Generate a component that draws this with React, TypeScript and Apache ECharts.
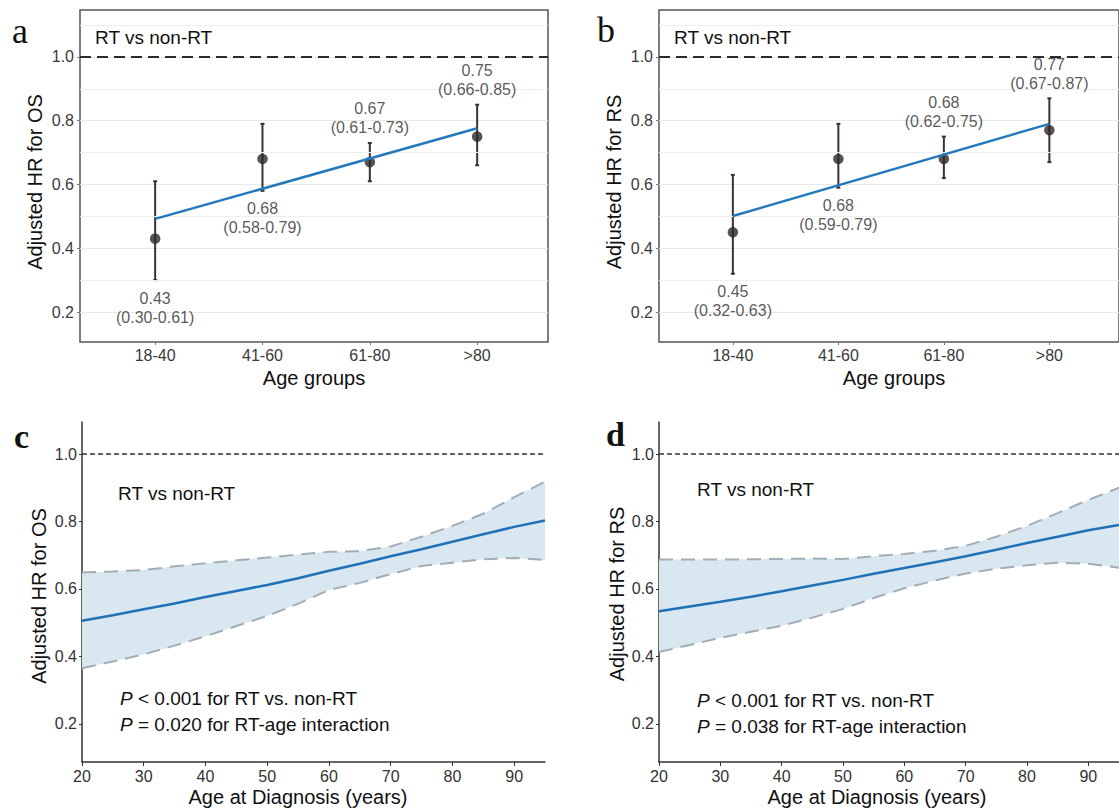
import React, { useEffect, useRef } from 'react';
import * as echarts from 'echarts';

// ---------- data ----------
const ageGroups = ['18-40', '41-60', '61-80', '>80'];
const groupPos = [1, 2, 3, 4];

// panel a: adjusted HR for OS by age group
const hrOS = [0.43, 0.68, 0.67, 0.75];
const loOS = [0.30, 0.58, 0.61, 0.66];
const hiOS = [0.61, 0.79, 0.73, 0.85];
const trendOS = [0.492, 0.776];
const sideOS = ['bottom', 'bottom', 'top', 'top'];

// panel b: adjusted HR for RS by age group
const hrRS = [0.45, 0.68, 0.68, 0.77];
const loRS = [0.32, 0.59, 0.62, 0.67];
const hiRS = [0.63, 0.79, 0.75, 0.87];
const trendRS = [0.501, 0.79];
const sideRS = ['bottom', 'bottom', 'top', 'top'];

// panels c/d: continuous age
const ages = [20, 25, 30, 35, 40, 45, 50, 55, 60, 65, 70, 75, 80, 85, 90, 95];
const fitOS = [0.506, 0.522, 0.540, 0.557, 0.576, 0.594, 0.612, 0.632, 0.654, 0.675, 0.697, 0.718, 0.740, 0.762, 0.784, 0.803];
const upOS = [0.649, 0.652, 0.656, 0.667, 0.676, 0.685, 0.693, 0.702, 0.710, 0.712, 0.726, 0.755, 0.787, 0.823, 0.872, 0.918];
const lowOS = [0.365, 0.385, 0.406, 0.432, 0.460, 0.490, 0.520, 0.556, 0.597, 0.618, 0.644, 0.668, 0.678, 0.688, 0.692, 0.686];

const fitRS = [0.534, 0.548, 0.562, 0.577, 0.593, 0.610, 0.627, 0.645, 0.662, 0.679, 0.697, 0.716, 0.736, 0.755, 0.774, 0.790];
const upRS = [0.687, 0.687, 0.687, 0.688, 0.689, 0.690, 0.689, 0.697, 0.704, 0.713, 0.728, 0.755, 0.787, 0.825, 0.864, 0.900];
const lowRS = [0.413, 0.434, 0.455, 0.473, 0.491, 0.515, 0.541, 0.573, 0.602, 0.625, 0.646, 0.660, 0.670, 0.678, 0.675, 0.663];

const hrTicks = [0.2, 0.4, 0.6, 0.8, 1.0];
const minorLevels = [0.3, 0.5, 0.7, 0.9, 1.1];
const ageTicks = [20, 30, 40, 50, 60, 70, 80, 90];
const refHR = 1.0;

// ---------- styling ----------
const FONT = '"Liberation Sans", Arial, Helvetica, sans-serif';
const SERIF = '"Liberation Serif", "Times New Roman", serif';
const BLUE = '#2479bd';
const DOT = '#2f2727';

function groupXAxis(gridIndex: number) {
  return {
    type: 'value', gridIndex, min: 0.3, max: 4.66,
    axisLine: { show: false, onZero: false },
    axisTick: { show: true, customValues: groupPos, length: 3, lineStyle: { color: '#777', width: 1 } },
    axisLabel: {
      customValues: groupPos,
      formatter: (v: number) => ageGroups[groupPos.indexOf(Math.round(v))] ?? '',
      color: '#3a3a3a', fontSize: 16, fontFamily: FONT, margin: 5,
    },
    splitLine: { show: false },
  };
}
function boxYAxis(gridIndex: number) {
  return {
    type: 'value', gridIndex, min: 0.106, max: 1.147,
    axisLine: { show: false, onZero: false },
    axisTick: { show: true, customValues: hrTicks, length: 3, lineStyle: { color: '#777', width: 1 } },
    axisLabel: {
      customValues: hrTicks, formatter: (v: number) => v.toFixed(1),
      color: '#3a3a3a', fontSize: 16, fontFamily: FONT, margin: 6,
    },
    splitLine: { show: true, lineStyle: { color: '#e8e8e8', width: 1 } },
  };
}
function ageXAxis(gridIndex: number) {
  return {
    type: 'value', gridIndex, min: 20, max: 95,
    axisLine: { show: true, onZero: false, lineStyle: { color: '#333', width: 1.5 } },
    axisTick: { show: true, customValues: ageTicks, length: 4, lineStyle: { color: '#333', width: 1 } },
    axisLabel: { customValues: ageTicks, color: '#333', fontSize: 16, fontFamily: FONT, margin: 6 },
    splitLine: { show: false },
  };
}
function classicYAxis(gridIndex: number) {
  return {
    type: 'value', gridIndex, min: 0.087, max: 1.095,
    axisLine: { show: true, onZero: false, lineStyle: { color: '#333', width: 1.5 } },
    axisTick: { show: true, customValues: hrTicks, length: 3, lineStyle: { color: '#333', width: 1 } },
    axisLabel: {
      customValues: hrTicks, formatter: (v: number) => v.toFixed(1),
      color: '#333', fontSize: 16, fontFamily: FONT, margin: 5,
    },
    splitLine: { show: false },
  };
}

function forestSeries(idx: number, hr: number[], lo: number[], hi: number[], trend: number[], sides: string[]) {
  const ax = { xAxisIndex: idx, yAxisIndex: idx };
  return [
    {
      type: 'line', ...ax, data: [], silent: true, z: 1,
      markLine: {
        silent: true, symbol: ['none', 'none'], label: { show: false },
        lineStyle: { color: '#eeeeee', width: 1, type: 'solid' },
        data: minorLevels.map((v) => ({ yAxis: v })),
      },
    },
    {
      type: 'custom', ...ax, z: 3,
      data: groupPos.map((x, i) => [x, lo[i], hi[i]]),
      encode: { x: 0, y: [1, 2] },
      renderItem: (_p: any, api: any) => {
        const x = api.value(0);
        const a = api.coord([x, api.value(1)]);
        const b = api.coord([x, api.value(2)]);
        const st = { stroke: '#3a3131', lineWidth: 2 };
        const cap = 2;
        return {
          type: 'group',
          children: [
            { type: 'line', shape: { x1: a[0], y1: a[1], x2: b[0], y2: b[1] }, style: st },
            { type: 'line', shape: { x1: a[0] - cap, y1: a[1], x2: a[0] + cap, y2: a[1] }, style: st },
            { type: 'line', shape: { x1: b[0] - cap, y1: b[1], x2: b[0] + cap, y2: b[1] }, style: st },
          ],
        };
      },
    },
    {
      type: 'scatter', ...ax, z: 4, symbolSize: 10.5,
      itemStyle: { color: DOT },
      data: groupPos.map((x, i) => [x, hr[i]]),
    },
    {
      type: 'line', ...ax, z: 5, symbol: 'none',
      lineStyle: { color: BLUE, width: 2.5 },
      data: [[groupPos[0], trend[0]], [groupPos[groupPos.length - 1], trend[1]]],
      markLine: {
        silent: true, symbol: ['none', 'none'], label: { show: false },
        lineStyle: { color: '#2a2a2a', width: 1.8, type: [11, 6] },
        data: [{ yAxis: refHR }],
      },
    },
    {
      type: 'scatter', ...ax, z: 6, symbolSize: 1,
      itemStyle: { color: 'rgba(0,0,0,0)' },
      data: groupPos.map((x, i) => ({
        value: [x, sides[i] === 'top' ? hi[i] : lo[i]],
        label: { position: sides[i], distance: sides[i] === 'top' ? 5 : 8 },
      })),
      label: {
        show: true,
        formatter: (p: any) => {
          const i = p.dataIndex;
          return `${hr[i].toFixed(2)}\n(${lo[i].toFixed(2)}-${hi[i].toFixed(2)})`;
        },
        color: '#2e2e2e', fontSize: 16, lineHeight: 19, fontFamily: FONT, align: 'center',
      },
    },
  ];
}

function curveSeries(idx: number, fit: number[], up: number[], low: number[]) {
  const ax = { xAxisIndex: idx, yAxisIndex: idx };
  const dash = { color: '#a3adb6', width: 2, type: [14, 8] };
  return [
    {
      type: 'custom', ...ax, z: 1, clip: true,
      data: ages.map((a, i) => [a, low[i], up[i]]),
      encode: { x: 0, y: [1, 2] },
      renderItem: (p: any, api: any) => {
        if (p.dataIndex !== 0) return null;
        const pts: number[][] = [];
        ages.forEach((a, i) => pts.push(api.coord([a, low[i]])));
        for (let i = ages.length - 1; i >= 0; i--) pts.push(api.coord([ages[i], up[i]]));
        return { type: 'polygon', shape: { points: pts }, style: { fill: '#d9e7f0' } };
      },
    },
    { type: 'line', ...ax, z: 2, symbol: 'none', lineStyle: dash, data: ages.map((a, i) => [a, up[i]]) },
    { type: 'line', ...ax, z: 2, symbol: 'none', lineStyle: dash, data: ages.map((a, i) => [a, low[i]]) },
    {
      type: 'line', ...ax, z: 3, symbol: 'none',
      lineStyle: { color: '#1f72b8', width: 2.5 },
      data: ages.map((a, i) => [a, fit[i]]),
      markLine: {
        silent: true, symbol: ['none', 'none'], label: { show: false },
        lineStyle: { color: '#333', width: 1.5, type: [5, 3] },
        data: [{ yAxis: refHR }],
      },
    },
  ];
}

function txt(x: number, y: number, text: string, size: number, opts: any = {}) {
  return {
    type: 'text', x, y, rotation: opts.rotation ?? 0, silent: true,
    style: {
      text, fill: opts.color ?? '#111',
      fontSize: size, fontFamily: opts.family ?? FONT, fontWeight: opts.weight ?? 'normal',
      align: opts.align ?? 'left', verticalAlign: 'middle',
      rich: opts.rich,
    },
  };
}
const pRich = {
  i: { fontStyle: 'italic', fontSize: 19, fontFamily: FONT, fill: '#111' },
};

export default function App() {
  const ref = useRef<HTMLDivElement>(null);
  useEffect(() => {
    if (!ref.current) return;
    const chart = echarts.init(ref.current, null, { renderer: 'svg' });
    const boxGrid = { show: true, borderColor: '#555', borderWidth: 1.5, backgroundColor: 'rgba(0,0,0,0)' };
    chart.setOption({
      animation: false,
      backgroundColor: '#fff',
      grid: [
        { left: 80, top: 10, width: 468, height: 332, ...boxGrid },
        { left: 659, top: 10, width: 468, height: 332, ...boxGrid },
        { left: 82, top: 422, width: 463, height: 340 },
        { left: 659, top: 422, width: 463, height: 340 },
      ],
      xAxis: [groupXAxis(0), groupXAxis(1), ageXAxis(2), ageXAxis(3)],
      yAxis: [boxYAxis(0), boxYAxis(1), classicYAxis(2), classicYAxis(3)],
      series: [
        ...forestSeries(0, hrOS, loOS, hiOS, trendOS, sideOS),
        ...forestSeries(1, hrRS, loRS, hiRS, trendRS, sideRS),
        ...curveSeries(2, fitOS, upOS, lowOS),
        ...curveSeries(3, fitRS, upRS, lowRS),
      ],
      graphic: [
        txt(12, 31, 'a', 36, { family: SERIF }),
        txt(597, 30, 'b', 36, { family: SERIF }),
        txt(14, 436, 'c', 34, { family: SERIF, weight: 'bold' }),
        txt(606, 434, 'd', 34, { family: SERIF, weight: 'bold' }),

        txt(95, 37, 'RT vs non-RT', 19),
        txt(674, 37, 'RT vs non-RT', 19),
        txt(118, 493, 'RT vs non-RT', 19),
        txt(697, 489, 'RT vs non-RT', 19),

        txt(120, 698, '{i|P} < 0.001 for RT vs. non-RT', 19, { rich: pRich }),
        txt(120, 724, '{i|P} = 0.020 for RT-age interaction', 19, { rich: pRich }),
        txt(697, 700, '{i|P} < 0.001 for RT vs. non-RT', 19, { rich: pRich }),
        txt(697, 726, '{i|P} = 0.038 for RT-age interaction', 19, { rich: pRich }),

        txt(35, 182, 'Adjusted HR for OS', 20, { rotation: Math.PI / 2, align: 'center' }),
        txt(614, 182, 'Adjusted HR for RS', 20, { rotation: Math.PI / 2, align: 'center' }),
        txt(39, 596, 'Adjusted HR for OS', 20, { rotation: Math.PI / 2, align: 'center' }),
        txt(617, 594, 'Adjusted HR for RS', 20, { rotation: Math.PI / 2, align: 'center' }),

        txt(314, 378, 'Age groups', 20, { align: 'center' }),
        txt(894, 378, 'Age groups', 20, { align: 'center' }),
        txt(298, 797, 'Age at Diagnosis (years)', 20, { align: 'center' }),
        txt(877, 797, 'Age at Diagnosis (years)', 20, { align: 'center' }),
      ],
    });
    return () => chart.dispose();
  }, []);
  return (
    <div
      ref={ref}
      style={{ position: 'fixed', left: 0, top: 0, width: 1119, height: 809, background: '#fff' }}
    />
  );
}
